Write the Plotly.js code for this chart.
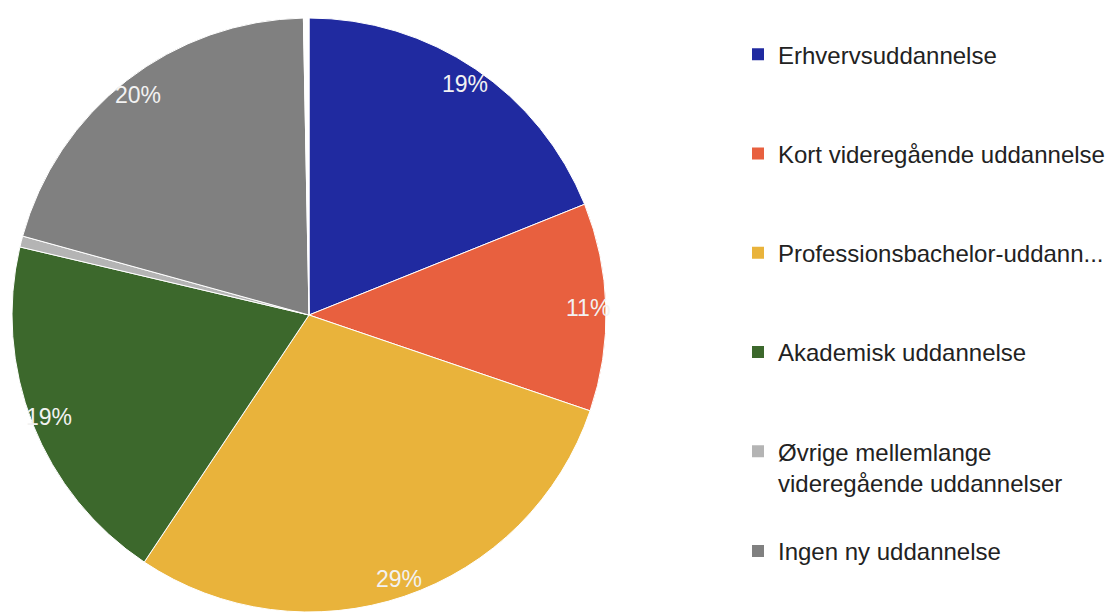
<!DOCTYPE html>
<html><head><meta charset="utf-8">
<script src="https://cdn.plot.ly/plotly-3.0.1.min.js"></script>
<style>html,body{margin:0;padding:0;background:#fff}#chart{width:1106px;height:612px}</style>
</head><body><div id="chart"></div>
<script>
const categories = ["Erhvervsuddannelse", "Kort videregående uddannelse", "Professionsbachelor-uddannelse", "Akademisk uddannelse", "Øvrige mellemlange videregående uddannelser", "Ingen ny uddannelse", "Andet"];
const values = [18.9, 11.3, 29.1, 19.3, 0.6, 20.4, 0.3];
const legendLabels = ["Erhvervsuddannelse", "Kort videregående uddannelse", "Professionsbachelor-uddann...", "Akademisk uddannelse", "Øvrige mellemlange<br>videregående uddannelser", "Ingen ny uddannelse"];
const colors = ["#202aa0", "#e8603f", "#e9b33b", "#3c682c", "#b4b4b4", "#808080", "#ffffff"];

const W = 1106, H = 612, T = 18;
const pieW = 618;
const pieFrac = pieW / W;
const plotH = H - T;

const pie = {
  type: "pie", labels: categories, values: values, sort: false,
  direction: "clockwise", rotation: 0,
  marker: {colors: colors, line: {color: "#ffffff", width: 1}},
  textinfo: "none", hoverinfo: "label+percent", showlegend: false,
  domain: {x: [0, pieFrac], y: [0, 1]}
};

// percentage labels placed along each slice's mid-angle near the rim (axis units: pie radius = 1)
const total = values.reduce((a, b) => a + b, 0);
const annotations = [];
let cum = 0;
values.forEach(v => {
  const f = v / total;
  const mid = (cum + f / 2) * 2 * Math.PI;
  cum += f;
  if (f >= 0.02) {
    annotations.push({
      xref: "x", yref: "y",
      x: 0.94 * Math.sin(mid), y: 0.94 * Math.cos(mid),
      text: Math.round(f * 100) + "%", showarrow: false,
      xanchor: "center", yanchor: "middle",
      font: {size: 23, color: "#f2f2f2", family: "Liberation Sans, Arial, sans-serif"}
    });
  }
});

const legendTraces = legendLabels.map((name, i) => ({
  type: "scatter", mode: "markers", x: [null], y: [null], name: name,
  marker: {symbol: "square", size: 12, color: colors[i]},
  legend: i < 5 ? "legend" : "legend2", legendgroup: "g" + i,
  showlegend: true, hoverinfo: "skip"
}));

const xr = pieW / plotH;
const layout = {
  width: W, height: H,
  margin: {l: 0, r: 0, t: T, b: 0, autoexpand: false},
  paper_bgcolor: "#ffffff", plot_bgcolor: "rgba(0,0,0,0)",
  font: {family: "Liberation Sans, Arial, sans-serif", color: "#222222"},
  xaxis: {domain: [0, pieFrac], range: [-xr, xr], visible: false, fixedrange: true},
  yaxis: {domain: [0, 1], range: [-1, 1], visible: false, fixedrange: true},
  annotations: annotations,
  showlegend: true,
  legend: {x: 738 / W, xanchor: "left", y: 0.976, yanchor: "top",
    font: {size: 24, color: "#222222"}, tracegroupgap: 65, valign: "top",
    bgcolor: "rgba(0,0,0,0)", itemclick: false, itemdoubleclick: false},
  legend2: {x: 738 / W, xanchor: "left", y: 0.14, yanchor: "top",
    font: {size: 24, color: "#222222"}, valign: "top",
    bgcolor: "rgba(0,0,0,0)", itemclick: false, itemdoubleclick: false}
};

Plotly.newPlot("chart", [pie].concat(legendTraces), layout, {displayModeBar: false, staticPlot: true});
</script>
</body></html>
